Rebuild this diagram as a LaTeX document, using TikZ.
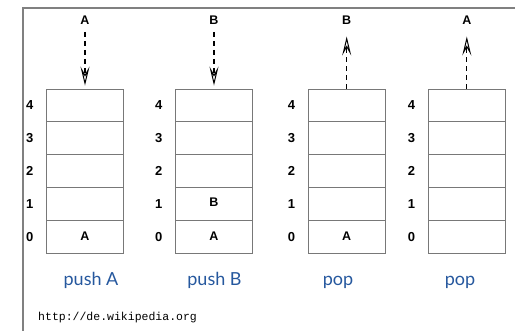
\documentclass[tikz,border=0pt]{standalone}
\usepackage{fontspec}
\setmainfont{Liberation Sans}
\newfontfamily\oplabelfont{Lato}
\newfontfamily\urlfont{Liberation Mono}
\usetikzlibrary{arrows.meta}
\definecolor{framegray}{RGB}{128,128,128}
\definecolor{cellgray}{RGB}{120,120,120}
\definecolor{opblue}{RGB}{38,88,158}
\tikzset{
  cell/.style={draw=cellgray, line width=0.9pt, minimum width=76.5pt, minimum height=32.8pt,
               inner sep=0pt, font=\bfseries\fontsize{12.5}{12.5}\selectfont},
  idx/.style={inner sep=0pt, font=\bfseries\fontsize{13}{13}\selectfont},
  item/.style={inner sep=0pt, font=\bfseries\fontsize{12.5}{12.5}\selectfont},
  oplabel/.style={anchor=base, inner sep=0pt, text=opblue, font=\oplabelfont\fontsize{18}{18}\selectfont},
  flow/.style={line width=1.2pt, dash pattern=on 5pt off 4pt,
               -{Stealth[open, length=19pt, width=9pt, inset=8pt, line width=1pt]}},
}
\begin{document}
\begin{tikzpicture}[x=1pt, y=-1pt]
  \useasboundingbox (0,0) rectangle (515,331);
  % outer frame (left and top edges only)
  \draw[framegray, line width=1.1pt] (23,331) -- (23,8) -- (515,8);

  % four stacks, each with five cells numbered 0..4 from the bottom
  \foreach \s/\cx in {1/85, 2/214, 3/346.7, 4/466.8} {
    \foreach \i in {0,...,4} {
      \node[cell] (s\s c\i) at (\cx, 253 - 32.8*\i - 16.4) {};
      \node[idx] (s\s n\i) at (\cx - 55.3, 253 - 32.8*\i - 16.4) {\i};
    }
  }

  % stack contents
  \node[item] (s1a) at (s1c0) {A};
  \node[item] (s2a) at (s2c0) {A};
  \node[item] (s2b) at ([yshift=2pt]s2c1.center) {B};
  \node[item] (s3a) at (s3c0) {A};

  % elements entering and leaving the stacks
  \node[item] (inA)  at (85, 20.5) {A};
  \node[item] (inB)  at (214, 20.5) {B};
  \node[item] (outB) at (346.7, 20.5) {B};
  \node[item] (outA) at (466.8, 20.5) {A};

  \draw[flow, shorten <=7pt, shorten >=3pt] (inA.south) -- (s1c4.north);
  \draw[flow, shorten <=7pt, shorten >=3pt] (inB.south) -- (s2c4.north);
  \draw[flow, shorten >=11.5pt] (s3c4.north) -- (outB.south);
  \draw[flow, shorten >=11.5pt] (s4c4.north) -- (outA.south);

  % operation names
  \node[oplabel] (op1) at (91, 285.5) {push A};
  \node[oplabel] (op2) at (214.5, 285.5) {push B};
  \node[oplabel] (op3) at (338, 285.5) {pop};
  \node[oplabel] (op4) at (460, 285.5) {pop};

  % source
  \node[anchor=base west, inner sep=0pt, font=\urlfont\fontsize{11.5}{11.5}\selectfont]
    (src) at (38, 321) {http://de.wikipedia.org};
\end{tikzpicture}
\end{document}
